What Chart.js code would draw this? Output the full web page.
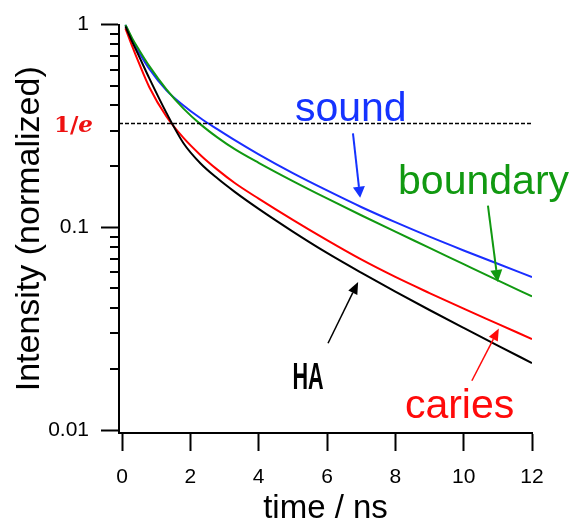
<!DOCTYPE html>
<html>
<head>
<meta charset="utf-8">
<script src="https://cdn.jsdelivr.net/npm/chart.js@4"></script>
<style>
  html, body { margin: 0; padding: 0; background: #fff; }
  #chart { display: block; }
</style>
</head>
<body>
<canvas id="chart" width="577" height="527"></canvas>
<script>
// Datos (tiempo en ns, intensidad normalizada)
const tiempos = [0.1, 0.3, 0.5, 0.8, 1.3, 1.8, 2.3, 2.8, 3.3, 4, 5, 6, 7, 8, 9, 10, 11, 12];
const sound = [1.0, 0.835, 0.728, 0.604, 0.474, 0.399, 0.345, 0.304, 0.269, 0.229, 0.185, 0.152, 0.126, 0.106, 0.0899, 0.0769, 0.0661, 0.0569];
const boundary = [1.0, 0.855, 0.750, 0.624, 0.479, 0.385, 0.322, 0.277, 0.243, 0.208, 0.169, 0.1388, 0.1147, 0.0952, 0.0792, 0.0658, 0.0547, 0.0456];
const caries = [0.959, 0.780, 0.643, 0.491, 0.352, 0.276, 0.227, 0.192, 0.1654, 0.1385, 0.1088, 0.0864, 0.0694, 0.0569, 0.0474, 0.0397, 0.0334, 0.0281];
const ha = [0.979, 0.822, 0.697, 0.543, 0.367, 0.260, 0.2065, 0.174, 0.1496, 0.1233, 0.0953, 0.0748, 0.0598, 0.0482, 0.0391, 0.0319, 0.0261, 0.0214];

// Linea horizontal marcada como 1/e
const unoSobreE = 0.325;

// Marcas de los ejes
const xTicks = [0, 2, 4, 6, 8, 10, 12];
const yTicks = [0.01, 0.1, 1];
const yTickLabels = ['0.01', '0.1', '1'];

const xMin = -0.088, xMax = 12;
const yMin = 0.00967, yMax = 1;

function puntos(valores) {
    return tiempos.map((t, i) => ({ x: t, y: valores[i] }));
}

// Dibujar flecha con punta rellena
function flecha(ctx, x1, y1, x2, y2, color, ancho, largo, mitad) {
    const ang = Math.atan2(y2 - y1, x2 - x1);
    const bx = x2 - largo * Math.cos(ang);
    const by = y2 - largo * Math.sin(ang);
    ctx.save();
    ctx.strokeStyle = color;
    ctx.fillStyle = color;
    ctx.lineWidth = ancho;
    ctx.beginPath();
    ctx.moveTo(x1, y1);
    ctx.lineTo(bx, by);
    ctx.stroke();
    ctx.beginPath();
    ctx.moveTo(x2, y2);
    ctx.lineTo(bx + mitad * Math.sin(ang), by - mitad * Math.cos(ang));
    ctx.lineTo(bx - mitad * Math.sin(ang), by + mitad * Math.cos(ang));
    ctx.closePath();
    ctx.fill();
    ctx.restore();
}

const anotaciones = {
    id: 'anotaciones',
    afterDraw(chart) {
        const ctx = chart.ctx;
        const xs = chart.scales.x;
        const ys = chart.scales.y;
        const px = t => xs.getPixelForValue(t);
        const py = v => ys.getPixelForValue(v);

        // Marcas menores del eje logaritmico
        ctx.save();
        ctx.strokeStyle = '#000';
        ctx.lineWidth = 2;
        [0.01, 0.1].forEach(dec => {
            for (let k = 2; k <= 9; k++) {
                const y = Math.round(py(dec * k));
                ctx.beginPath();
                ctx.moveTo(ys.right - 9, y);
                ctx.lineTo(ys.right, y);
                ctx.stroke();
            }
        });
        ctx.restore();

        // Etiqueta 1/e
        ctx.save();
        ctx.fillStyle = '#ee1111';
        ctx.textBaseline = 'alphabetic';
        ctx.textAlign = 'left';
        const yE = py(unoSobreE) + 8;
        ctx.font = 'bold italic 23px "DejaVu Serif"';
        const wE = ctx.measureText('e').width;
        ctx.font = 'bold 23px "DejaVu Serif"';
        const w1 = ctx.measureText('1/').width;
        const xE = ys.right - 26 - wE - w1;
        ctx.fillText('1/', xE, yE);
        ctx.font = 'bold italic 23px "DejaVu Serif"';
        ctx.fillText('e', xE + w1, yE);
        ctx.restore();

        // Textos de cada curva
        ctx.save();
        ctx.textAlign = 'left';
        ctx.textBaseline = 'alphabetic';
        ctx.font = '41px "Liberation Sans"';
        ctx.fillStyle = '#1533ff';
        ctx.fillText('sound', px(5.06), py(0.333));
        ctx.fillStyle = '#119911';
        ctx.fillText('boundary', px(8.08), py(0.1465));
        ctx.fillStyle = '#ff0a0a';
        ctx.fillText('caries', px(8.28), py(0.01145));
        ctx.restore();

        // HA en letra condensada
        ctx.save();
        ctx.translate(px(4.99), py(0.01585));
        ctx.scale(0.6, 1);
        ctx.font = 'bold 36px "Liberation Sans"';
        ctx.fillStyle = '#000';
        ctx.textAlign = 'left';
        ctx.textBaseline = 'alphabetic';
        ctx.fillText('HA', 0, 0);
        ctx.restore();

        // Flechas
        flecha(ctx, px(6.76), py(0.291), px(6.97), py(0.140), '#1533ff', 2, 11, 6);
        flecha(ctx, px(10.71), py(0.128), px(11.0), py(0.0538), '#119911', 2, 12, 6);
        flecha(ctx, px(6.03), py(0.0268), px(6.91), py(0.0538), '#000', 1.5, 12, 5);
        flecha(ctx, px(10.24), py(0.0175), px(11.03), py(0.0317), '#ff0a0a', 1.5, 12, 5);
    }
};

const ctx = document.getElementById('chart').getContext('2d');
const chart = new Chart(ctx, {
    type: 'line',
    data: {
        datasets: [
            {
                label: '1/e',
                data: [{ x: xMin, y: unoSobreE }, { x: xMax, y: unoSobreE }],
                borderColor: '#000',
                borderWidth: 1.5,
                borderDash: [4, 2],
                pointRadius: 0
            },
            { label: 'HA', data: puntos(ha), borderColor: '#000000', borderWidth: 2, pointRadius: 0, cubicInterpolationMode: 'monotone' },
            { label: 'caries', data: puntos(caries), borderColor: '#ff0000', borderWidth: 2, pointRadius: 0, cubicInterpolationMode: 'monotone' },
            { label: 'boundary', data: puntos(boundary), borderColor: '#119911', borderWidth: 2, pointRadius: 0, cubicInterpolationMode: 'monotone' },
            { label: 'sound', data: puntos(sound), borderColor: '#1a2eff', borderWidth: 2, pointRadius: 0, cubicInterpolationMode: 'monotone' }
        ]
    },
    options: {
        responsive: false,
        animation: false,
        layout: { padding: { top: 20, right: 45, left: 0, bottom: 0 } },
        plugins: {
            legend: { display: false },
            tooltip: { enabled: false }
        },
        scales: {
            x: {
                type: 'linear',
                min: xMin,
                max: xMax,
                afterBuildTicks: scale => { scale.ticks = xTicks.map(v => ({ value: v })); },
                afterFit: scale => { scale.height = 94; },
                border: { display: true, color: '#000', width: 2 },
                grid: { drawOnChartArea: false, drawTicks: true, tickLength: 18, tickWidth: 2, tickColor: '#000' },
                ticks: {
                    color: '#000',
                    padding: 14,
                    maxRotation: 0,
                    font: { family: 'Liberation Sans', size: 21 }
                },
                title: {
                    display: true,
                    text: 'time / ns',
                    color: '#000',
                    font: { family: 'Liberation Sans', size: 33, lineHeight: 1 },
                    padding: { top: 0, bottom: 2 }
                }
            },
            y: {
                type: 'logarithmic',
                min: yMin,
                max: yMax,
                afterBuildTicks: scale => { scale.ticks = yTicks.map(v => ({ value: v })); },
                afterFit: scale => { scale.width = 119; },
                border: { display: true, color: '#000', width: 2 },
                grid: { drawOnChartArea: false, drawTicks: true, tickLength: 18, tickWidth: 2, tickColor: '#000' },
                ticks: {
                    color: '#000',
                    padding: 12,
                    font: { family: 'Liberation Sans', size: 21 },
                    callback: (value) => {
                        const i = yTicks.indexOf(value);
                        return i >= 0 ? yTickLabels[i] : '';
                    }
                },
                title: {
                    display: true,
                    text: 'Intensity (normalized)',
                    color: '#000',
                    font: { family: 'Liberation Sans', size: 34, lineHeight: 1 },
                    padding: { top: 13, bottom: 0 }
                }
            }
        }
    },
    plugins: [anotaciones]
});
</script>
</body>
</html>
